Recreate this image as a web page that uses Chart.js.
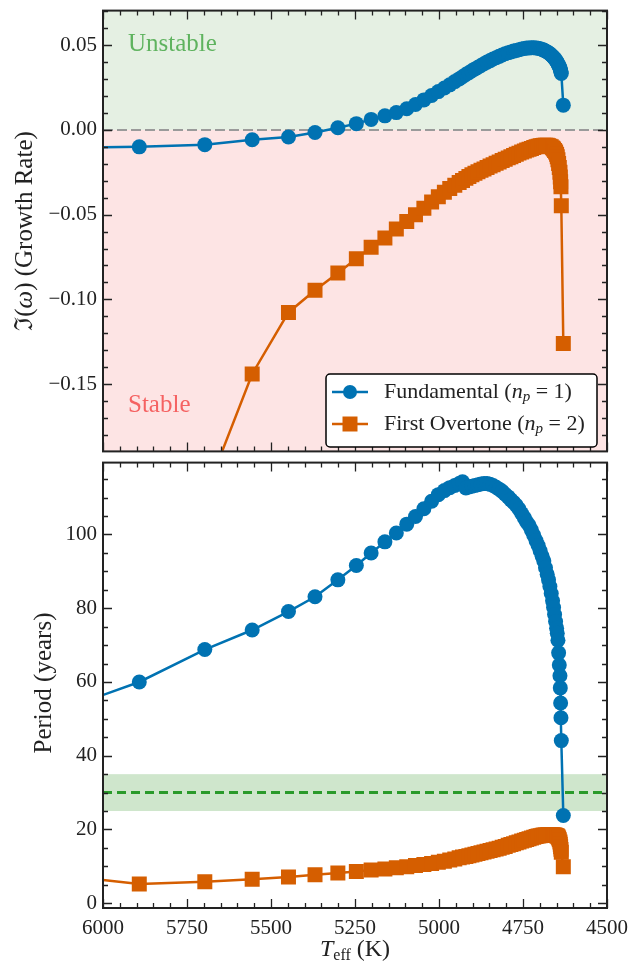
<!DOCTYPE html>
<html>
<head>
<meta charset="utf-8">
<script src="https://cdn.jsdelivr.net/npm/chart.js@4.4.0/dist/chart.umd.min.js"></script>
<style>
  html, body { margin: 0; padding: 0; background: #fff; }
  #wrap { position: relative; width: 642px; height: 964px; }
  #bottomChart { position: absolute; left: 0; top: 452px; }
  #topChart { position: absolute; left: 0; top: 0; }
</style>
</head>
<body>
<div id="wrap">
  <canvas id="bottomChart" width="642" height="512"></canvas>
  <canvas id="topChart" width="642" height="462"></canvas>
</div>
<script>
// Model sequence (effective temperature, K)
const teff = [6100, 5892, 5697, 5556, 5448, 5369, 5301, 5246, 5202, 5161, 5127, 5096, 5070, 5045,
  5022, 5002, 4984, 4968, 4953, 4940, 4930, 4920, 4911, 4902, 4893, 4884, 4875, 4866, 4857,
  4848, 4839, 4830, 4821, 4812, 4803, 4794, 4786, 4778, 4770, 4762, 4754, 4746, 4739, 4732,
  4725, 4718, 4711, 4705, 4699, 4693, 4688, 4683, 4678, 4674, 4670, 4666, 4662, 4659, 4656,
  4653, 4650, 4648, 4646, 4644, 4642, 4640, 4639, 4638, 4637, 4636, 4630];

// Im(omega), fundamental mode
const growthFund = [-0.0105, -0.0100, -0.0087, -0.0058, -0.0042, -0.0015, 0.0013, 0.0037, 0.0062, 0.0083, 0.0102, 0.0125, 0.0150, 0.0177,
  0.0203, 0.0226, 0.0247, 0.0266, 0.0285, 0.0301, 0.0314, 0.0327, 0.0338, 0.0349, 0.0360, 0.0370, 0.0380, 0.0390, 0.0400,
  0.0409, 0.0418, 0.0426, 0.0434, 0.0442, 0.0449, 0.0455, 0.0460, 0.0465, 0.0469, 0.0473, 0.0477, 0.0480, 0.0483, 0.0484,
  0.0485, 0.0485, 0.0484, 0.0482, 0.0479, 0.0475, 0.0471, 0.0466, 0.0460, 0.0455, 0.0449, 0.0442, 0.0435, 0.0428, 0.0421,
  0.0413, 0.0405, 0.0399, 0.0390, 0.0382, 0.0374, 0.0366, 0.0358, 0.0350, 0.0342, 0.0333, 0.0146];

// Im(omega), first overtone
const growthOver = [-0.400, -0.310, -0.216, -0.144, -0.1077, -0.0946, -0.0844, -0.0760, -0.0692, -0.0638, -0.0585, -0.0540, -0.0500, -0.0462,
  -0.0425, -0.0395, -0.0368, -0.0346, -0.0326, -0.0311, -0.0298, -0.0286, -0.0275, -0.0265, -0.0256, -0.0247, -0.0238, -0.0230, -0.0222,
  -0.0213, -0.0205, -0.0197, -0.0189, -0.0181, -0.0173, -0.0165, -0.0158, -0.0151, -0.0144, -0.0137, -0.0131, -0.0125, -0.0119, -0.0114,
  -0.0109, -0.0104, -0.0100, -0.0097, -0.0094, -0.0092, -0.0090, -0.0090, -0.0091, -0.0093, -0.0096, -0.0100, -0.0106, -0.0113, -0.0121,
  -0.0131, -0.0143, -0.0158, -0.0176, -0.0198, -0.0222, -0.0250, -0.0278, -0.0306, -0.0336, -0.0448, -0.126];

// Period in years
const periodFund = [53.2, 60.0, 68.8, 74.1, 79.1, 83.1, 87.7, 91.6, 95.0, 98.0, 100.4, 102.8, 104.9, 107.0,
  109.0, 110.8, 111.9, 112.7, 113.3, 113.8, 114.3, 112.6, 112.9, 113.1, 113.3, 113.5, 113.7, 113.8, 113.8,
  113.6, 113.3, 112.8, 112.3, 111.7, 110.9, 110.2, 109.4, 108.7, 107.9, 106.9, 105.7, 104.5, 103.4, 102.5,
  101.2, 99.8, 98.3, 97.0, 95.6, 94.1, 92.8, 91.0, 89.2, 87.7, 85.9, 84.0, 82.0, 80.2, 78.3,
  76.4, 74.6, 73.2, 71.3, 67.9, 64.6, 61.7, 58.4, 54.3, 50.3, 44.1, 23.8];

const periodOver = [7.3, 5.2, 5.8, 6.5, 7.1, 7.7, 8.2, 8.6, 9.0, 9.3, 9.6, 9.9, 10.2, 10.5,
  10.8, 11.1, 11.4, 11.7, 12.0, 12.3, 12.5, 12.7, 12.9, 13.1, 13.3, 13.5, 13.7, 13.9, 14.1,
  14.3, 14.5, 14.7, 14.9, 15.2, 15.4, 15.7, 15.9, 16.1, 16.4, 16.6, 16.9, 17.1, 17.3, 17.5,
  17.7, 17.9, 18.1, 18.2, 18.3, 18.4, 18.5, 18.5, 18.6, 18.6, 18.6, 18.6, 18.6, 18.5, 18.5,
  18.4, 18.3, 18.2, 18.0, 17.7, 17.2, 16.6, 16.0, 15.3, 14.6, 13.8, 9.9];

// observed cycle, years
const observedPeriod = 30;
const observedRange = [25, 35];

const teffTicks = [6000, 5750, 5500, 5250, 5000, 4750, 4500];
const growthTicks = [-0.15, -0.10, -0.05, 0.00, 0.05];
const periodTicks = [0, 20, 40, 60, 80, 100];

const FONT = '"Liberation Serif", "DejaVu Serif", serif';
const INK = '#222';
const BLUE = '#0072B2';
const ORANGE = '#D55E00';

Chart.defaults.font.family = FONT;
Chart.defaults.color = INK;

function pts(ys) {
  return teff.map((t, i) => ({ x: t, y: ys[i] }));
}

function fmtGrowth(v) {
  return (v < 0 ? '\u2212' : '') + Math.abs(v).toFixed(2);
}

// draw text pieces one after the other
function richText(ctx, parts, x, y, align) {
  let w = 0;
  parts.forEach(p => {
    ctx.font = (p.italic ? 'italic ' : '') + p.size + 'px ' + FONT;
    p.w = ctx.measureText(p.t).width;
    w += p.w;
  });
  let cx = align === 'left' ? x : x - w / 2;
  ctx.textBaseline = 'middle';
  ctx.textAlign = 'left';
  parts.forEach(p => {
    ctx.font = (p.italic ? 'italic ' : '') + p.size + 'px ' + FONT;
    ctx.fillText(p.t, cx, y + (p.dy || 0));
    cx += p.w;
  });
}

function frameTicks(chart, yStep, yMajors) {
  const { ctx, chartArea: a, scales: { x, y } } = chart;
  ctx.save();
  ctx.strokeStyle = INK;
  ctx.lineWidth = 1.3;
  ctx.beginPath();
  for (let t = 4500; t <= 6000; t += 50) {
    const px = Math.round(x.getPixelForValue(t)) + 0.5;
    const len = teffTicks.includes(t) ? 9 : 5;
    ctx.moveTo(px, a.top); ctx.lineTo(px, a.top + len);
    ctx.moveTo(px, a.bottom); ctx.lineTo(px, a.bottom - len);
  }
  const k0 = Math.ceil(y.min / yStep), k1 = Math.floor(y.max / yStep);
  for (let k = k0; k <= k1; k++) {
    const v = k * yStep;
    const py = Math.round(y.getPixelForValue(v)) + 0.5;
    const major = yMajors.some(m => Math.abs(m - v) < yStep / 10);
    const len = major ? 9 : 5;
    ctx.moveTo(a.left, py); ctx.lineTo(a.left + len, py);
    ctx.moveTo(a.right, py); ctx.lineTo(a.right - len, py);
  }
  ctx.stroke();
  ctx.lineWidth = 2;
  ctx.strokeRect(a.left, a.top, a.right - a.left, a.bottom - a.top);
  ctx.restore();
}

function xAxis(show) {
  return {
    type: 'linear', reverse: true, min: 4500, max: 6000, display: show,
    grid: { display: false, drawTicks: false },
    border: { display: false },
    afterBuildTicks: s => { s.ticks = teffTicks.map(v => ({ value: v })); },
    afterFit: s => {
      if (show) s.height = 56;
      s.paddingLeft = 0; s.paddingRight = 0;
    },
    ticks: { autoSkip: false, maxRotation: 0, padding: 8, color: INK, font: { size: 21 }, callback: v => String(v) }
  };
}

function yAxis(min, max, ticks, fmt) {
  return {
    min, max,
    grid: { display: false, drawTicks: false }, border: { display: false },
    afterBuildTicks: s => { s.ticks = ticks.map(v => ({ value: v })); },
    afterFit: s => { s.width = 103; s.paddingTop = 0; s.paddingBottom = 0; },
    ticks: { padding: 6, color: INK, font: { size: 21 }, callback: fmt }
  };
}

function lineSet(label, ys, color, style, r) {
  return {
    label, data: pts(ys),
    borderColor: color, backgroundColor: color, borderWidth: 2.5,
    pointStyle: style, pointRadius: r, pointHoverRadius: r,
    pointBackgroundColor: color, pointBorderWidth: 0, tension: 0
  };
}

// ---- top panel: growth rate
new Chart(document.getElementById('topChart'), {
  type: 'line',
  data: {
    datasets: [
      lineSet('Fundamental', growthFund, BLUE, 'circle', 7.5),
      lineSet('First Overtone', growthOver, ORANGE, 'rect', 10.6)
    ]
  },
  options: {
    responsive: false, animation: false,
    layout: { padding: { left: 0, right: 35, top: 6, bottom: 5 } },
    plugins: { legend: { display: false }, tooltip: { enabled: false } },
    scales: {
      x: xAxis(false),
      y: yAxis(-0.1897, 0.0704, growthTicks, v => fmtGrowth(v))
    }
  },
  plugins: [{
    id: 'topDeco',
    beforeDatasetsDraw(chart) {
      const { ctx, chartArea: a, scales: { y } } = chart;
      const y0 = y.getPixelForValue(0);
      ctx.save();
      ctx.fillStyle = '#e5f0e3';
      ctx.fillRect(a.left, a.top, a.right - a.left, y0 - a.top);
      ctx.fillStyle = '#fde4e4';
      ctx.fillRect(a.left, y0, a.right - a.left, a.bottom - y0);
      ctx.strokeStyle = '#9a9a9a';
      ctx.lineWidth = 2;
      ctx.setLineDash([10, 4]);
      ctx.beginPath(); ctx.moveTo(a.left, y0); ctx.lineTo(a.right, y0); ctx.stroke();
      ctx.setLineDash([]);
      ctx.fillStyle = '#5fb35f';
      richText(ctx, [{ t: 'Unstable', size: 25 }], 128, 44, 'left');
      ctx.fillStyle = '#f56262';
      richText(ctx, [{ t: 'Stable', size: 25 }], 128, 405, 'left');
      ctx.restore();
    },
    afterDatasetsDraw(chart) {
      const { ctx } = chart;
      frameTicks(chart, 0.01, growthTicks);
      ctx.save();
      ctx.fillStyle = INK;
      ctx.translate(25, 231);
      ctx.rotate(-Math.PI / 2);
      richText(ctx, [
        { t: '\u2111(', size: 25 }, { t: '\u03c9', size: 25, italic: true },
        { t: ') (Growth Rate)', size: 25 }
      ], 0, 0, 'center');
      ctx.restore();
      // legend
      ctx.save();
      ctx.beginPath();
      ctx.roundRect(326, 374, 271, 73, 4);
      ctx.fillStyle = '#fff';
      ctx.fill();
      ctx.strokeStyle = '#000';
      ctx.lineWidth = 1.5;
      ctx.stroke();
      const rows = [
        { y: 392, c: BLUE, shape: 'circle', n: '1', name: 'Fundamental (' },
        { y: 424, c: ORANGE, shape: 'rect', n: '2', name: 'First Overtone (' }
      ];
      rows.forEach(r => {
        ctx.strokeStyle = r.c; ctx.fillStyle = r.c; ctx.lineWidth = 2.5;
        ctx.beginPath(); ctx.moveTo(332, r.y); ctx.lineTo(368, r.y); ctx.stroke();
        ctx.beginPath();
        if (r.shape === 'circle') ctx.arc(350, r.y, 7, 0, Math.PI * 2);
        else ctx.rect(342.5, r.y - 7.5, 15, 15);
        ctx.fill();
        ctx.fillStyle = INK;
        richText(ctx, [
          { t: r.name, size: 22 }, { t: 'n', size: 22, italic: true },
          { t: 'p', size: 15, italic: true, dy: 5 }, { t: ' = ' + r.n + ')', size: 22 }
        ], 384, r.y, 'left');
      });
      ctx.restore();
    }
  }]
});

// ---- bottom panel: period
new Chart(document.getElementById('bottomChart'), {
  type: 'line',
  data: {
    datasets: [
      lineSet('Fundamental', periodFund, BLUE, 'circle', 7.5),
      lineSet('First Overtone', periodOver, ORANGE, 'rect', 10.6)
    ]
  },
  options: {
    responsive: false, animation: false,
    layout: { padding: { left: 0, right: 35, top: 5, bottom: 0 } },
    plugins: { legend: { display: false }, tooltip: { enabled: false } },
    scales: {
      x: xAxis(true),
      y: yAxis(-1.3, 119.5, periodTicks, v => String(v))
    }
  },
  plugins: [{
    id: 'bottomDeco',
    beforeDatasetsDraw(chart) {
      const { ctx, chartArea: a, scales: { y } } = chart;
      const yLo = y.getPixelForValue(observedRange[0]);
      const yHi = y.getPixelForValue(observedRange[1]);
      const yObs = y.getPixelForValue(observedPeriod);
      ctx.save();
      ctx.fillStyle = '#cfe6cc';
      ctx.fillRect(a.left, yHi, a.right - a.left, yLo - yHi);
      ctx.strokeStyle = '#2a9a2a';
      ctx.lineWidth = 3;
      ctx.setLineDash([9, 5]);
      ctx.beginPath(); ctx.moveTo(a.left, yObs); ctx.lineTo(a.right, yObs); ctx.stroke();
      ctx.restore();
    },
    afterDatasetsDraw(chart) {
      const { ctx, chartArea: a } = chart;
      frameTicks(chart, 5, periodTicks);
      ctx.save();
      ctx.fillStyle = INK;
      richText(ctx, [
        { t: 'T', size: 24, italic: true }, { t: 'eff', size: 16, dy: 6 }, { t: ' (K)', size: 24 }
      ], (a.left + a.right) / 2, 498, 'center');
      ctx.translate(44, 231);
      ctx.rotate(-Math.PI / 2);
      richText(ctx, [{ t: 'Period (years)', size: 25 }], 0, 0, 'center');
      ctx.restore();
    }
  }]
});
</script>
</body>
</html>
